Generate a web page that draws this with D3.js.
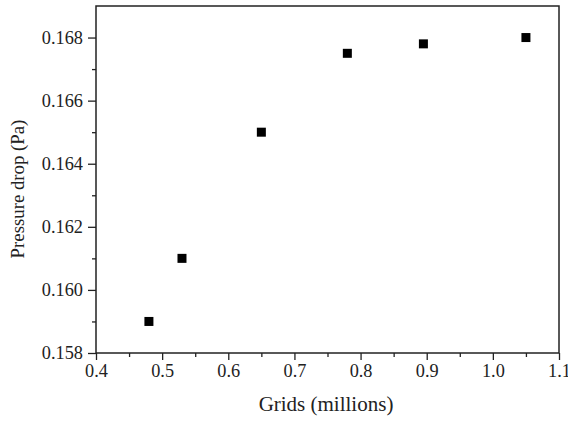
<!DOCTYPE html>
<html><head><meta charset="utf-8">
<script src="https://cdn.jsdelivr.net/npm/d3@7"></script>
<style>body{margin:0;background:#fff}svg{display:block}</style>
</head><body>
<script>
const grids = [0.48, 0.53, 0.65, 0.78, 0.895, 1.05];
const pressure = [0.159, 0.161, 0.165, 0.1675, 0.1678, 0.168];
const xTicks = [0.4, 0.5, 0.6, 0.7, 0.8, 0.9, 1.0, 1.1];
const yTicks = [0.158, 0.160, 0.162, 0.164, 0.166, 0.168];
const xMinor = [0.45, 0.55, 0.65, 0.75, 0.85, 0.95, 1.05];
const yMinor = [0.159, 0.161, 0.163, 0.165, 0.167];

const W = 568, H = 423;
const m = {left: 96, right: 9, top: 6, bottom: 70};
const svg = d3.select("body").append("svg").attr("width", W).attr("height", H);
const x = d3.scaleLinear().domain([0.4, 1.1]).range([m.left, W - m.right]);
const y = d3.scaleLinear().domain([0.158, 0.169]).range([H - m.bottom, m.top]);
const font = "'Liberation Serif', 'Times New Roman', serif";
const col = "#222";

svg.append("rect").attr("x", x(0.4)).attr("y", y(0.169)).attr("width", x(1.1) - x(0.4)).attr("height", y(0.158) - y(0.169))
  .attr("fill", "none").attr("stroke", col).attr("stroke-width", 1.5);

const xAxis = svg.append("g").attr("transform", `translate(0,${y(0.158)})`)
  .call(d3.axisBottom(x).tickValues(xTicks).tickFormat(d3.format(".1f")).tickSize(7).tickPadding(4));
const xMin = svg.append("g").attr("transform", `translate(0,${y(0.158)})`)
  .call(d3.axisBottom(x).tickValues(xMinor).tickFormat("").tickSize(4));
const yAxis = svg.append("g").attr("transform", `translate(${x(0.4)},0)`)
  .call(d3.axisLeft(y).tickValues(yTicks).tickFormat(d3.format(".3f")).tickSize(8).tickPadding(5));
const yMin = svg.append("g").attr("transform", `translate(${x(0.4)},0)`)
  .call(d3.axisLeft(y).tickValues(yMinor).tickFormat("").tickSize(4));
[xAxis, xMin, yAxis, yMin].forEach(g => {
  g.select(".domain").remove();
  g.selectAll("line").attr("stroke", col).attr("stroke-width", 1.3);
  g.selectAll("text").attr("font-family", font).attr("font-size", 18.3).attr("fill", "#222");
});

svg.selectAll("rect.pt").data(grids).enter().append("rect").attr("class", "pt")
  .attr("x", (d) => x(d) - 4.5).attr("y", (d, i) => y(pressure[i]) - 4.5)
  .attr("width", 9).attr("height", 9).attr("fill", "#000");

svg.append("text").attr("x", 326).attr("y", 411).attr("text-anchor", "middle")
  .attr("font-family", font).attr("font-size", 21).attr("fill", "#222").text("Grids (millions)");
svg.append("text").attr("transform", `translate(24,189) rotate(-90)`)
  .attr("text-anchor", "middle").attr("font-family", font).attr("font-size", 18.8).attr("fill", "#222")
  .text("Pressure drop (Pa)");
</script>
</body></html>
